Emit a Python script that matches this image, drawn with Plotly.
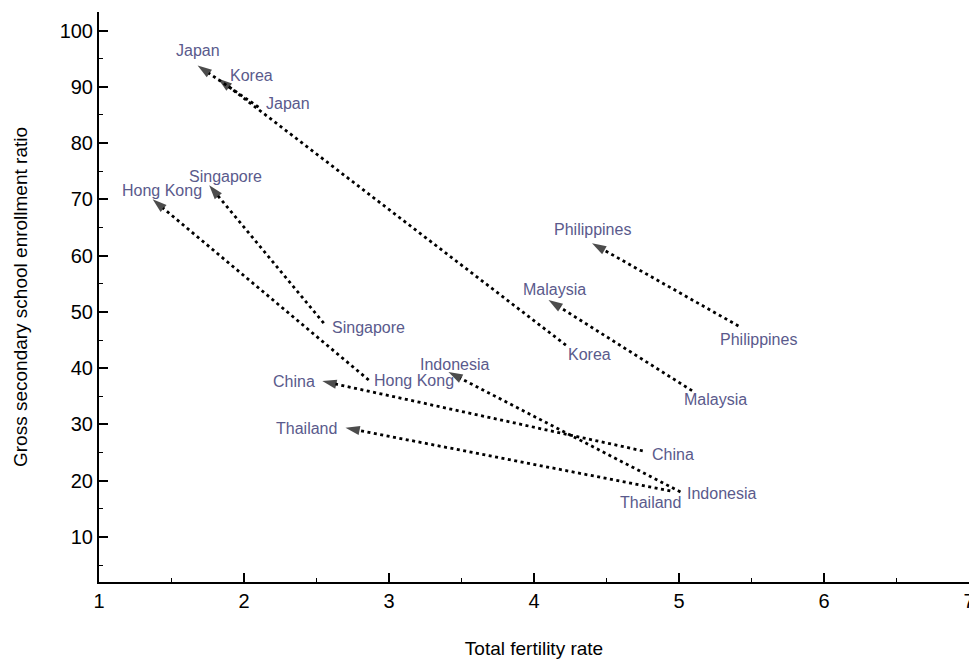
import plotly.graph_objects as go

# ---- data ----
countries = ["Japan", "Korea", "Singapore", "Hong Kong", "China",
             "Indonesia", "Thailand", "Malaysia", "Philippines"]
tfr_start = [2.10, 4.22, 2.55, 2.86, 4.75, 5.01, 4.94, 5.09, 5.41]
enr_start = [86.4, 44.1, 48.0, 37.9, 25.3, 18.0, 18.2, 36.0, 47.5]
tfr_end = [1.68, 1.82, 1.76, 1.37, 2.54, 3.41, 2.70, 4.10, 4.40]
enr_end = [93.8, 91.5, 72.5, 70.0, 37.7, 39.3, 29.4, 52.1, 62.2]

x_ticks = [1, 2, 3, 4, 5, 6, 7]
y_ticks = [10, 20, 30, 40, 50, 60, 70, 80, 90, 100]

# ---- label placement (pixel offsets, anchors) ----
start_lab = {
    "Japan": ("left", 5, 4), "Korea": ("left", 0, -9), "Singapore": ("left", 6, -4),
    "Hong Kong": ("left", 3, 0), "China": ("left", 7, -4), "Indonesia": ("left", 5, -2),
    "Thailand": ("right", 13, -12), "Malaysia": ("left", -10, -9),
    "Philippines": ("left", -20, -14),
}
end_lab = {
    "Japan": ("center", 0, 15), "Korea": ("left", 10, 3), "Singapore": ("center", 16, 9),
    "Hong Kong": ("center", 9, 9), "China": ("right", -5, 0), "Indonesia": ("center", 6, 8),
    "Thailand": ("right", -7, -1), "Malaysia": ("center", 6, 11),
    "Philippines": ("center", 0, 14),
}

FONT = "Liberation Sans, Arial, sans-serif"
LABEL_COLOR = "#5a5a8c"

fig = go.Figure()
for i, c in enumerate(countries):
    fig.add_trace(go.Scatter(
        x=[tfr_start[i], tfr_end[i]], y=[enr_start[i], enr_end[i]],
        mode="lines+markers",
        line=dict(color="black", width=2.8, dash="3px,3.5px"),
        marker=dict(symbol="arrow", size=[0, 15], color="black",
                    angleref="previous", line=dict(width=0)),
        showlegend=False, hoverinfo="skip",
    ))

annotations = []
for i, c in enumerate(countries):
    anc, dx, dy = start_lab[c]
    annotations.append(dict(x=tfr_start[i], y=enr_start[i], text=c, showarrow=False,
                            xanchor=anc, yanchor="middle", xshift=dx, yshift=dy,
                            font=dict(family=FONT, size=16, color=LABEL_COLOR)))
    anc, dx, dy = end_lab[c]
    annotations.append(dict(x=tfr_end[i], y=enr_end[i], text=c, showarrow=False,
                            xanchor=anc, yanchor="middle", xshift=dx, yshift=dy,
                            font=dict(family=FONT, size=16, color=LABEL_COLOR)))

# page body has an 8px margin, so the figure is offset by (8, 8)
fig.update_layout(
    width=977, height=653,
    margin=dict(l=91, r=16, t=4, b=79),
    paper_bgcolor="white", plot_bgcolor="white",
    font=dict(family=FONT, color="black"),
    annotations=annotations,
    xaxis=dict(
        range=[1, 7], tickvals=x_ticks, ticks="inside", ticklen=9, tickwidth=1.5,
        tickcolor="black", showline=True, linewidth=2, linecolor="black",
        showgrid=False, zeroline=False, automargin=False, ticklabeloverflow="allow",
        minor=dict(dtick=0.5, ticks="inside", ticklen=4, tickwidth=1.2, tickcolor="black", showgrid=False),
        tickfont=dict(family=FONT, size=20, color="black"),
        title=dict(text="Total fertility rate", font=dict(family=FONT, size=19, color="black"), standoff=31),
    ),
    yaxis=dict(
        range=[2, 103.3], tickvals=y_ticks, ticks="inside", ticklen=9, tickwidth=1.5,
        tickcolor="black", showline=True, linewidth=2, linecolor="black",
        showgrid=False, zeroline=False, automargin=False,
        minor=dict(dtick=5, tick0=0, ticks="inside", ticklen=4, tickwidth=1.2, tickcolor="black", showgrid=False),
        tickfont=dict(family=FONT, size=20, color="black"),
        title=dict(text="Gross secondary school enrollment ratio", font=dict(family=FONT, size=19, color="black"), standoff=27),
    ),
)

fig.write_html("out.html",
               post_script="document.documentElement.style.overflow='hidden';document.body.style.overflow='hidden';")
